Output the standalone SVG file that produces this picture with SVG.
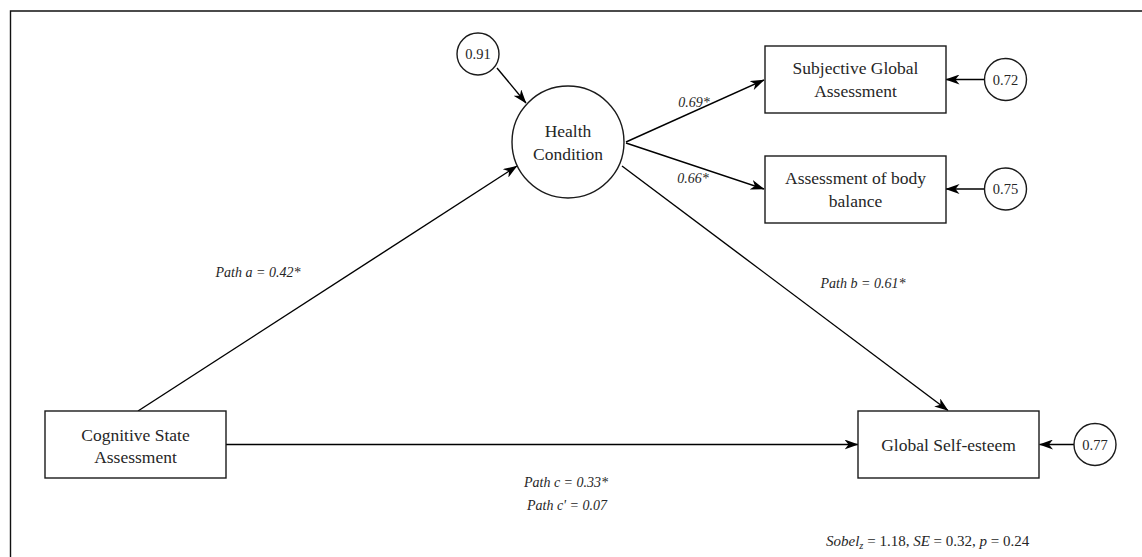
<svg xmlns="http://www.w3.org/2000/svg" width="1142" height="557" viewBox="0 0 1142 557">
<defs>
<marker id="arr" viewBox="0 0 14 10" markerWidth="14" markerHeight="10" refX="13.5" refY="5" orient="auto" markerUnits="userSpaceOnUse">
<path d="M0,0 L14,5 L0,10 L4,5 z" fill="#000"/>
</marker>
<style>
.box{fill:#fff;stroke:#1a1a1a;stroke-width:1.4}
.lat{fill:#fff;stroke:#1a1a1a;stroke-width:1.4}
.t{font-family:"Liberation Serif","Times New Roman",serif;font-size:17.5px;fill:#262626;text-anchor:middle}
.s{font-family:"Liberation Serif","Times New Roman",serif;font-size:14.5px;fill:#262626;text-anchor:middle}
.lbl{font-family:"Liberation Serif","Times New Roman",serif;font-size:14px;font-style:italic;fill:#262626;text-anchor:middle}
.edge{stroke:#000;stroke-width:1.4;fill:none}
.frame{stroke:#111;stroke-width:1.4;fill:none}
</style>
</defs>
<rect width="1142" height="557" fill="#fff"/>
<path class="frame" d="M10.5,557 L10.5,11 L1142,11"/>

<g id="connectors">
<line class="edge" x1="497" y1="68" x2="526" y2="103" marker-end="url(#arr)"/>
<line class="edge" x1="626" y1="142" x2="764" y2="80" marker-end="url(#arr)"/>
<line class="edge" x1="626" y1="143" x2="764" y2="189" marker-end="url(#arr)"/>
<line class="edge" x1="984" y1="79.5" x2="946" y2="79.5" marker-end="url(#arr)"/>
<line class="edge" x1="984" y1="189" x2="946" y2="189" marker-end="url(#arr)"/>
<line class="edge" x1="1074" y1="444.5" x2="1039.5" y2="444.5" marker-end="url(#arr)"/>
<line class="edge" x1="226" y1="444.5" x2="858" y2="444.5" marker-end="url(#arr)"/>
<line class="edge" x1="138" y1="411" x2="517" y2="166" marker-end="url(#arr)"/>
<line class="edge" x1="622" y1="166" x2="948" y2="410.5" marker-end="url(#arr)"/>
<text class="lbl" x="694" y="107">0.69*</text>
<text class="lbl" x="693" y="183">0.66*</text>
<text class="lbl" x="258" y="277">Path a = 0.42*</text>
<text class="lbl" x="863" y="288">Path b = 0.61*</text>
<text class="lbl" x="566" y="487">Path c = 0.33*</text>
<text class="lbl" x="567" y="509.5">Path c' = 0.07</text>
</g>

<g id="e091">
<circle class="lat" cx="478" cy="54" r="21"/>
<text class="s" x="478" y="59">0.91</text>
</g>

<g id="health">
<circle class="lat" cx="568" cy="142" r="56"/>
<text class="t" x="568" y="137">Health</text>
<text class="t" x="568" y="160">Condition</text>
</g>

<g id="subjective">
<rect class="box" x="765" y="46" width="181" height="67"/>
<text class="t" x="855.5" y="74">Subjective Global</text>
<text class="t" x="855.5" y="97">Assessment</text>
</g>

<g id="e072">
<circle class="lat" cx="1005.5" cy="79.5" r="21"/>
<text class="s" x="1005.5" y="84.5">0.72</text>
</g>

<g id="balance">
<rect class="box" x="765" y="156" width="181" height="67"/>
<text class="t" x="855.5" y="184">Assessment of body</text>
<text class="t" x="855.5" y="207">balance</text>
</g>

<g id="e075">
<circle class="lat" cx="1005.5" cy="189" r="21"/>
<text class="s" x="1005.5" y="194">0.75</text>
</g>

<g id="cognitive">
<rect class="box" x="45" y="411" width="181" height="67"/>
<text class="t" x="135.5" y="440.5">Cognitive State</text>
<text class="t" x="135.5" y="463">Assessment</text>
</g>

<g id="selfesteem">
<rect class="box" x="858" y="411" width="181" height="67"/>
<text class="t" x="948.5" y="450.5">Global Self-esteem</text>
</g>

<g id="e077">
<circle class="lat" cx="1095" cy="444.5" r="21"/>
<text class="s" x="1095" y="449.5">0.77</text>
</g>

<g id="sobel">
<text x="826" y="546" style="font-family:'Liberation Serif','Times New Roman',serif;font-size:15px;fill:#262626"><tspan font-style="italic">Sobel</tspan><tspan font-style="italic" font-size="10.5px" dy="3">z</tspan><tspan dy="-3"> = 1.18, </tspan><tspan font-style="italic">SE</tspan><tspan> = 0.32, </tspan><tspan font-style="italic">p</tspan><tspan> = 0.24</tspan></text>
</g>
</svg>
